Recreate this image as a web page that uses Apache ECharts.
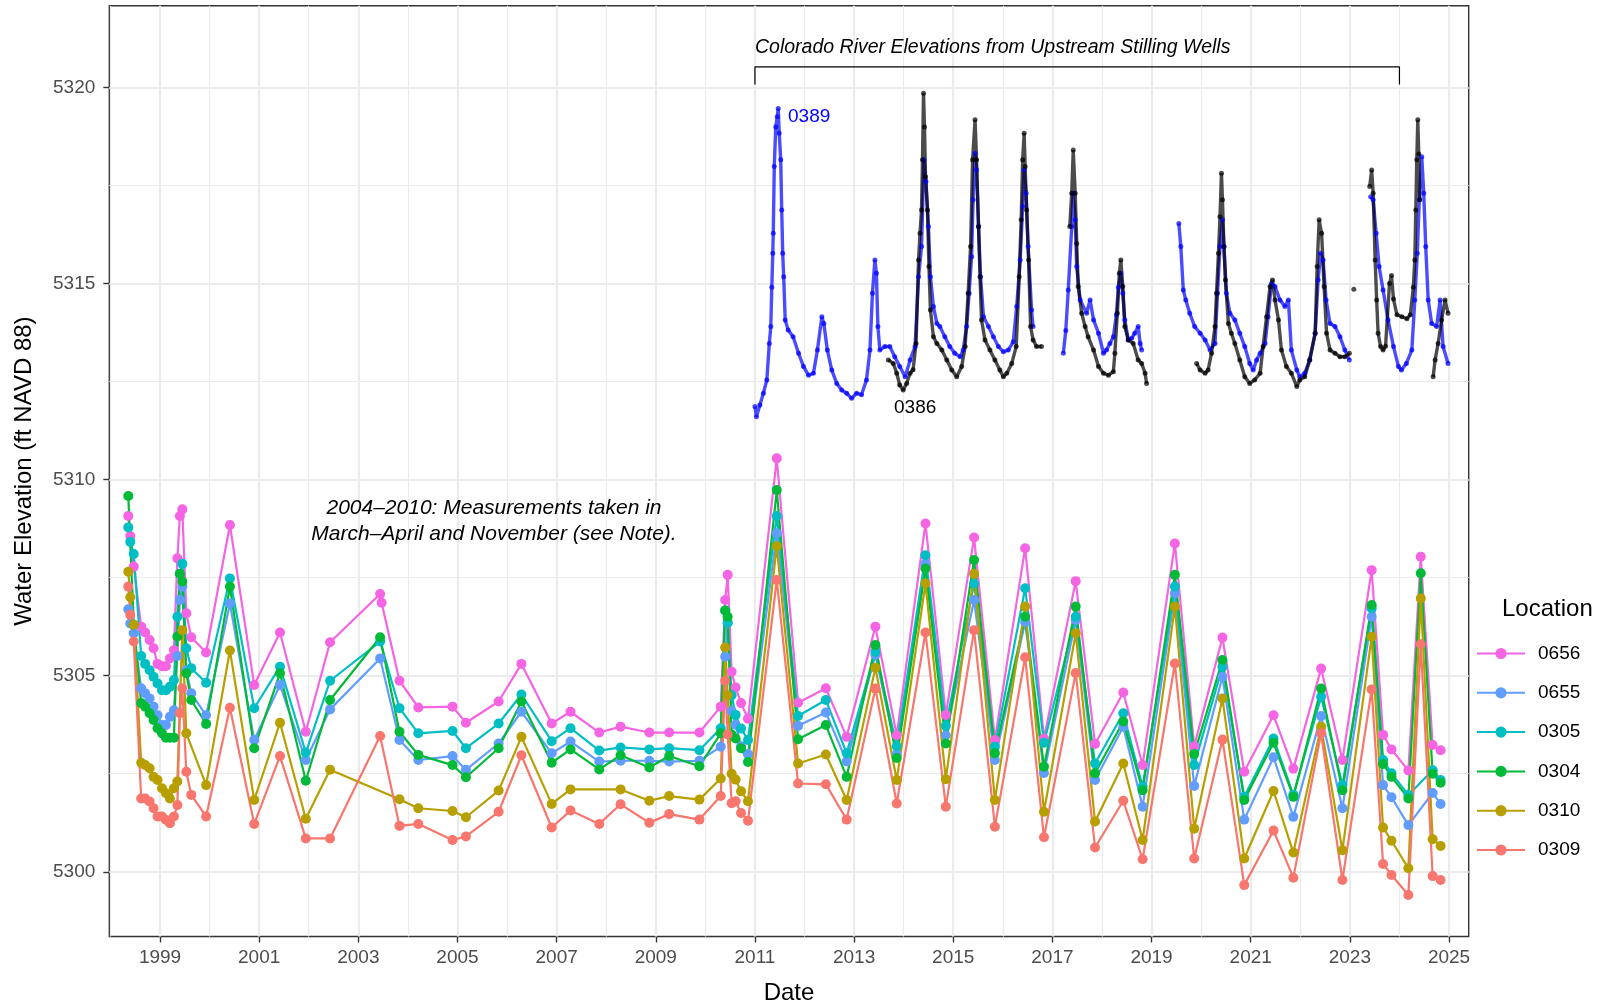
<!DOCTYPE html>
<html>
<head>
<meta charset="utf-8">
<script src="https://cdn.jsdelivr.net/npm/echarts@6/dist/echarts.min.js"></script>
<style>
  html, body { margin: 0; padding: 0; background: #fff; }
  #chart { width: 1604px; height: 1004px; }
</style>
</head>
<body>
<div id="chart"></div>
<script>
// sampling dates (decimal years)
const datesEarly = [1998.36, 1998.40, 1998.47, 1998.62, 1998.70, 1998.79, 1998.87, 1998.95, 1999.04, 1999.12, 1999.20, 1999.28, 1999.35, 1999.40, 1999.45, 1999.53, 1999.63, 1999.93];
const datesMid = [2000.41, 2000.90, 2001.42, 2001.94, 2002.43, 2003.44, 2003.47, 2003.83, 2004.21, 2004.90, 2005.17, 2005.83, 2006.29, 2006.90, 2007.28, 2007.86, 2008.29, 2008.87, 2009.27, 2009.88];
const datesCluster = [2010.31, 2010.40, 2010.45, 2010.53, 2010.61, 2010.72, 2010.86];
const datesLate = [2011.44, 2011.87, 2012.43, 2012.85, 2013.43, 2013.86, 2014.44, 2014.85, 2015.42, 2015.84, 2016.45, 2016.83, 2017.47, 2017.86, 2018.43, 2018.82, 2019.47, 2019.86, 2020.43, 2020.87, 2021.46, 2021.86, 2022.42, 2022.85, 2023.44, 2023.67, 2023.84, 2024.18, 2024.43, 2024.67, 2024.83];
const dates = [...datesEarly, ...datesMid, ...datesCluster, ...datesLate];

// water elevations per location (ft NAVD 88), null = not measured
const v0656 = [
  5309.07, 5308.56, 5307.78, 5306.25, 5306.10, 5305.91, 5305.70, 5305.30, 5305.24, 5305.24, 5305.44, 5305.65, 5307.99, 5309.07, 5309.24, 5306.59, 5305.98, 5305.59,
  5308.84, 5304.76, 5306.10, 5303.57, 5305.85, 5307.08, 5306.86, 5304.87, 5304.19, 5304.21, 5303.80, 5304.34, 5305.30, 5303.78, 5304.08, 5303.55, 5303.70, 5303.55, 5303.55, 5303.55,
  5304.21, 5306.93, 5307.57, 5305.10, 5304.70, 5304.30, 5303.90,
  5310.54, 5304.31, 5304.68, 5303.44, 5306.25, 5303.48, 5308.88, 5304.00, 5308.52, 5303.36, 5308.25, 5303.40, 5307.41, 5303.26, 5304.57, 5302.72, 5308.37, 5303.20, 5305.97, 5302.55, 5303.99, 5302.63, 5305.18, 5302.85, 5307.69, 5303.49, 5303.12, 5302.58, 5308.03, 5303.23, 5303.10
];
const v0655 = [
  5306.69, 5306.33, 5306.08, 5304.68, 5304.55, 5304.42, 5304.21, 5303.99, 5303.74, 5303.74, 5303.95, 5304.12, 5305.50, 5306.93, 5307.27, 5305.14, 5304.55, 5303.99,
  5306.84, 5303.36, 5304.76, 5302.85, 5304.14, 5305.44, null, 5303.36, 5302.85, 5302.95, 5302.60, 5303.27, 5304.08, 5303.02, 5303.32, 5302.81, 5302.83, 5302.83, 5302.81, 5302.83,
  5303.19, 5305.48, 5306.35, 5304.10, 5303.75, 5303.20, 5303.00,
  5308.63, 5303.72, 5304.06, 5302.81, 5305.53, 5303.00, 5307.86, 5303.48, 5306.93, 5302.85, 5306.37, 5302.52, 5306.42, 5302.34, 5303.70, 5301.66, 5307.10, 5302.19, 5304.97, 5301.33, 5302.92, 5301.40, 5303.97, 5301.62, 5306.50, 5302.21, 5301.90, 5301.19, null, 5302.01, 5301.73
];
const v0305 = [
  5308.78, 5308.41, 5308.10, 5305.50, 5305.30, 5305.14, 5304.97, 5304.80, 5304.63, 5304.63, 5304.72, 5304.89, 5306.50, 5307.60, 5307.85, 5305.70, 5305.19, 5304.82,
  5307.48, 5304.17, 5305.23, 5303.04, 5304.87, 5305.87, null, 5304.17, 5303.53, 5303.59, 5303.15, 5303.78, 5304.52, 5303.33, 5303.66, 5303.09, 5303.17, 5303.12, 5303.15, 5303.10,
  5303.66, 5306.66, 5306.35, 5304.50, 5304.00, 5303.65, 5303.36,
  5309.07, 5303.97, 5304.38, 5303.02, 5305.61, 5303.20, 5308.07, 5303.72, 5307.35, 5303.19, 5307.23, 5303.29, 5306.50, 5302.76, 5304.04, 5302.17, 5307.27, 5302.72, 5305.23, 5301.91, 5303.40, 5301.96, 5304.46, 5302.21, 5306.71, 5302.85, 5302.51, 5301.96, null, 5302.59, 5302.34
];
const v0304 = [
  5309.58, null, 5306.30, 5304.30, 5304.21, 5304.04, 5303.87, 5303.66, 5303.53, 5303.42, 5303.42, 5303.42, 5306.00, 5307.60, 5307.40, 5305.06, 5304.38, 5303.77,
  5307.27, 5303.15, 5305.06, 5302.32, 5304.38, 5305.98, null, 5303.57, 5302.98, 5302.72, 5302.41, 5303.15, 5304.34, 5302.78, 5303.12, 5302.61, 5302.97, 5302.66, 5302.95, 5302.69,
  5303.53, 5306.66, 5306.50, 5303.50, 5303.40, 5303.15, 5302.80,
  5309.73, 5303.38, 5303.74, 5302.42, 5305.78, 5302.90, 5307.73, 5303.27, 5307.95, 5303.02, 5306.50, 5302.68, 5306.76, 5302.51, 5303.83, 5302.08, 5307.57, 5303.00, 5305.40, 5301.83, 5303.29, 5301.91, 5304.67, 5302.08, 5306.80, 5302.75, 5302.42, 5301.87, 5307.61, 5302.50, 5302.27
];
const v0310 = [
  5307.65, 5307.00, 5306.30, 5302.78, 5302.72, 5302.64, 5302.42, 5302.34, 5302.13, 5302.00, 5301.87, 5302.13, 5302.30, null, 5306.16, 5303.53, null, 5302.21,
  5305.64, 5301.83, 5303.80, 5301.35, 5302.60, null, null, 5301.85, 5301.62, 5301.55, 5301.39, 5302.07, 5303.44, 5301.73, 5302.10, null, 5302.10, 5301.81, 5301.93, 5301.84,
  5302.38, 5305.72, 5304.50, 5302.50, 5302.35, 5302.05, 5301.80,
  5308.30, 5302.76, 5302.99, 5301.83, 5305.20, 5302.34, 5307.35, 5302.36, 5307.60, 5301.83, 5306.76, 5301.53, 5306.08, 5301.28, 5302.76, 5300.81, 5306.76, 5301.10, 5304.42, 5300.34, 5302.06, 5300.49, 5303.70, 5300.55, 5305.99, 5301.13, 5300.79, 5300.09, 5306.97, 5300.83, 5300.66
];
const v0309 = [
  5307.27, 5306.55, 5305.87, 5301.87, 5301.87, 5301.79, 5301.62, 5301.41, 5301.41, 5301.32, 5301.24, 5301.41, 5301.70, 5304.04, 5304.68, 5302.55, 5301.96, 5301.41,
  5304.18, 5301.22, 5302.95, 5300.85, 5300.85, 5303.46, null, 5301.17, 5301.22, 5300.81, 5300.90, 5301.53, 5302.97, 5301.13, 5301.56, 5301.22, 5301.72, 5301.25, 5301.47, 5301.33,
  5301.93, 5304.87, 5303.50, 5301.75, 5301.80, 5301.50, 5301.30,
  5307.44, 5302.25, 5302.23, 5301.33, 5304.67, 5301.74, 5306.10, 5301.66, 5306.16, 5301.15, 5305.47, 5300.88, 5305.07, 5300.62, 5301.81, 5300.32, 5305.31, 5300.34, 5303.37, 5299.66, 5301.05, 5299.85, 5303.53, 5299.79, 5304.65, 5300.20, 5299.92, 5299.41, 5305.80, 5299.89, 5299.79
];

// upstream stilling wells on the river: [year, elevation], null = gap in record
const r0389 = [
  [2011.00, 5311.86], [2011.03, 5311.60], [2011.10, 5311.90], [2011.17, 5312.20], [2011.24, 5312.54], [2011.29, 5313.47], [2011.32, 5313.90], [2011.34, 5314.90],
  [2011.36, 5315.77], [2011.37, 5316.28], [2011.39, 5317.98], [2011.42, 5318.99], [2011.45, 5319.25], [2011.47, 5319.46], [2011.49, 5318.83], [2011.52, 5318.15],
  [2011.54, 5316.87], [2011.56, 5315.77], [2011.58, 5315.17], [2011.61, 5314.07], [2011.67, 5313.81], [2011.77, 5313.64], [2011.88, 5313.22], [2011.98, 5312.88],
  [2012.08, 5312.66], [2012.18, 5312.71], [2012.26, 5313.30], [2012.35, 5314.15], [2012.39, 5313.98], [2012.46, 5313.30], [2012.55, 5312.79], [2012.65, 5312.45],
  [2012.75, 5312.28], [2012.85, 5312.20], [2012.95, 5312.07], [2013.05, 5312.20], [2013.15, 5312.16], [2013.25, 5312.54], [2013.32, 5313.30], [2013.37, 5314.75],
  [2013.42, 5315.60], [2013.45, 5315.26], [2013.48, 5313.90], [2013.52, 5313.30], [2013.62, 5313.39], [2013.72, 5313.39], [2013.82, 5313.13], [2013.92, 5312.88],
  [2014.03, 5312.62], [2014.13, 5313.05], [2014.23, 5313.39], [2014.30, 5315.17], [2014.36, 5315.94], [2014.41, 5318.15], [2014.45, 5317.60], [2014.50, 5316.45],
  [2014.54, 5315.17], [2014.60, 5314.41], [2014.67, 5313.98], [2014.73, 5313.90], [2014.83, 5313.64], [2014.93, 5313.39], [2015.03, 5313.22], [2015.14, 5313.13],
  [2015.20, 5313.30], [2015.27, 5313.90], [2015.32, 5314.75], [2015.37, 5315.68], [2015.40, 5317.13], [2015.44, 5318.32], [2015.47, 5317.90], [2015.51, 5316.45],
  [2015.55, 5315.17], [2015.61, 5314.15], [2015.71, 5313.90], [2015.81, 5313.64], [2015.91, 5313.39], [2016.01, 5313.26], [2016.11, 5313.30], [2016.21, 5313.51],
  [2016.28, 5314.41], [2016.35, 5315.60], [2016.40, 5316.96], [2016.43, 5317.90], [2016.47, 5317.30], [2016.51, 5315.94], [2016.58, 5314.32], [2016.61, 5313.90],
  [2016.90, null],
  [2017.22, 5313.22], [2017.27, 5313.80], [2017.32, 5314.83], [2017.39, 5316.45], [2017.42, 5317.30], [2017.46, 5316.62], [2017.49, 5315.43], [2017.56, 5314.58],
  [2017.69, 5314.24], [2017.76, 5314.58], [2017.83, 5314.07], [2017.93, 5313.73], [2018.03, 5313.22], [2018.09, 5313.30], [2018.16, 5313.47], [2018.23, 5313.64],
  [2018.29, 5314.20], [2018.33, 5314.90], [2018.38, 5315.26], [2018.42, 5314.75], [2018.46, 5314.07], [2018.53, 5313.56], [2018.60, 5313.60], [2018.66, 5313.73],
  [2018.73, 5313.90], [2018.77, 5313.47], [2018.80, 5313.30],
  [2019.20, null],
  [2019.55, 5316.53], [2019.59, 5315.94], [2019.64, 5314.83], [2019.69, 5314.58], [2019.77, 5314.24], [2019.87, 5313.90], [2019.98, 5313.73], [2020.08, 5313.56],
  [2020.18, 5313.30], [2020.28, 5313.47], [2020.33, 5314.75], [2020.38, 5315.94], [2020.43, 5316.62], [2020.46, 5315.94], [2020.51, 5314.75], [2020.58, 5314.24],
  [2020.68, 5314.07], [2020.78, 5313.73], [2020.88, 5313.39], [2020.98, 5312.96], [2021.05, 5312.79], [2021.12, 5313.05], [2021.19, 5313.22], [2021.29, 5313.47],
  [2021.35, 5314.15], [2021.42, 5315.00], [2021.49, 5314.92], [2021.59, 5314.58], [2021.69, 5314.41], [2021.76, 5314.58], [2021.82, 5313.30], [2021.93, 5312.79],
  [2021.99, 5312.62], [2022.09, 5312.71], [2022.19, 5313.05], [2022.30, 5313.73], [2022.36, 5315.09], [2022.41, 5315.77], [2022.46, 5315.60], [2022.52, 5314.58],
  [2022.60, 5313.98], [2022.70, 5313.90], [2022.80, 5313.64], [2022.90, 5313.30], [2022.99, 5313.05],
  [2023.20, null],
  [2023.42, 5317.21], [2023.47, 5317.13], [2023.53, 5316.28], [2023.59, 5315.43], [2023.67, 5314.83], [2023.77, 5314.07], [2023.88, 5313.39], [2023.98, 5312.88],
  [2024.04, 5312.79], [2024.14, 5312.96], [2024.25, 5313.30], [2024.31, 5314.58], [2024.36, 5315.77], [2024.40, 5317.13], [2024.45, 5318.23], [2024.49, 5317.30],
  [2024.53, 5315.94], [2024.58, 5314.58], [2024.65, 5313.98], [2024.75, 5313.90], [2024.82, 5314.58], [2024.88, 5313.39], [2024.98, 5312.96]
];
const r0386 = [
  [2013.69, 5313.05], [2013.79, 5312.96], [2013.86, 5312.71], [2013.92, 5312.41], [2013.99, 5312.28], [2014.06, 5312.45], [2014.13, 5312.71], [2014.19, 5312.80],
  [2014.25, 5313.47], [2014.30, 5315.60], [2014.33, 5316.28], [2014.36, 5316.87], [2014.38, 5318.15], [2014.40, 5319.85], [2014.42, 5318.99], [2014.44, 5317.72],
  [2014.48, 5316.87], [2014.51, 5315.43], [2014.54, 5314.32], [2014.60, 5313.64], [2014.67, 5313.47], [2014.77, 5313.30], [2014.87, 5313.05], [2014.97, 5312.79],
  [2015.07, 5312.62], [2015.17, 5312.88], [2015.24, 5313.39], [2015.30, 5314.75], [2015.35, 5315.94], [2015.39, 5318.15], [2015.44, 5319.17], [2015.47, 5318.15],
  [2015.51, 5316.45], [2015.54, 5315.17], [2015.57, 5314.07], [2015.64, 5313.56], [2015.74, 5313.30], [2015.84, 5313.05], [2015.94, 5312.79], [2016.01, 5312.62],
  [2016.08, 5312.71], [2016.18, 5312.96], [2016.27, 5313.39], [2016.33, 5315.17], [2016.37, 5316.62], [2016.40, 5318.15], [2016.43, 5318.83], [2016.45, 5317.98],
  [2016.48, 5316.87], [2016.52, 5315.60], [2016.56, 5313.90], [2016.61, 5313.56], [2016.68, 5313.39], [2016.78, 5313.39],
  [2017.00, null],
  [2017.35, 5316.45], [2017.39, 5317.30], [2017.42, 5318.40], [2017.46, 5317.30], [2017.49, 5316.02], [2017.52, 5314.92], [2017.59, 5314.24], [2017.66, 5313.90],
  [2017.72, 5313.64], [2017.83, 5313.30], [2017.93, 5312.88], [2018.03, 5312.71], [2018.13, 5312.66], [2018.23, 5312.75], [2018.26, 5313.22], [2018.31, 5314.24],
  [2018.35, 5315.26], [2018.38, 5315.60], [2018.42, 5314.92], [2018.46, 5313.90], [2018.53, 5313.56], [2018.63, 5313.47], [2018.73, 5313.05], [2018.80, 5312.96],
  [2018.87, 5312.71], [2018.90, 5312.45],
  [2019.40, null],
  [2019.91, 5312.96], [2019.98, 5312.79], [2020.08, 5312.71], [2020.14, 5312.79], [2020.21, 5313.22], [2020.28, 5313.90], [2020.31, 5314.75], [2020.35, 5315.77],
  [2020.38, 5316.70], [2020.41, 5317.81], [2020.43, 5317.13], [2020.46, 5315.94], [2020.49, 5315.09], [2020.55, 5313.98], [2020.61, 5313.73], [2020.68, 5313.47],
  [2020.78, 5313.05], [2020.88, 5312.62], [2020.98, 5312.45], [2021.08, 5312.54], [2021.19, 5312.71], [2021.25, 5313.39], [2021.32, 5314.15], [2021.39, 5314.92],
  [2021.44, 5315.09], [2021.49, 5314.58], [2021.56, 5314.07], [2021.62, 5313.30], [2021.72, 5312.88], [2021.82, 5312.71], [2021.93, 5312.37], [2021.99, 5312.54],
  [2022.09, 5312.62], [2022.19, 5313.05], [2022.30, 5313.73], [2022.34, 5315.43], [2022.38, 5316.62], [2022.43, 5316.28], [2022.48, 5314.92], [2022.53, 5313.73],
  [2022.60, 5313.30], [2022.70, 5313.22], [2022.80, 5313.13], [2022.90, 5313.13], [2022.99, 5313.22],
  [2023.04, null], [2023.08, 5314.85], [2023.20, null],
  [2023.40, 5317.47], [2023.44, 5317.89], [2023.47, 5317.30], [2023.51, 5315.60], [2023.54, 5314.58], [2023.57, 5313.73], [2023.62, 5313.39], [2023.67, 5313.30],
  [2023.72, 5313.40], [2023.80, 5315.00], [2023.84, 5315.20], [2023.88, 5314.60], [2023.95, 5314.20], [2024.05, 5314.15], [2024.15, 5314.10], [2024.22, 5314.20],
  [2024.28, 5314.90], [2024.31, 5315.60], [2024.33, 5316.87], [2024.35, 5318.15], [2024.37, 5319.17], [2024.39, 5318.30], [2024.41, 5317.13],
  [2024.50, null],
  [2024.68, 5312.62], [2024.72, 5313.05], [2024.78, 5313.47], [2024.85, 5314.07], [2024.92, 5314.58], [2024.98, 5314.24]
];

// axis ticks / grid lines
const majorX = [1999, 2001, 2003, 2005, 2007, 2009, 2011, 2013, 2015, 2017, 2019, 2021, 2023, 2025];
const minorX = [1998, 2000, 2002, 2004, 2006, 2008, 2010, 2012, 2014, 2016, 2018, 2020, 2022, 2024];
const majorY = [5300, 5305, 5310, 5315, 5320];
const minorY = [5302.5, 5307.5, 5312.5, 5317.5];

// bracket over the river records
const bracketX = [2011, 2011, 2024, 2024];
const bracketY = [5320.07, 5320.52, 5320.52, 5320.07];

const locations = [
  { name: '0656', color: '#F564E3', vals: v0656 },
  { name: '0655', color: '#619CFF', vals: v0655 },
  { name: '0305', color: '#00BFC4', vals: v0305 },
  { name: '0304', color: '#00BA38', vals: v0304 },
  { name: '0310', color: '#B79F00', vals: v0310 },
  { name: '0309', color: '#F8766D', vals: v0309 }
];

const FONT = '"Liberation Sans", Arial, sans-serif';
const chart = echarts.init(document.getElementById('chart'));

const gridLines = [
  ...minorX.map(v => ({ xAxis: v, lineStyle: { width: 1.2 } })),
  ...majorX.map(v => ({ xAxis: v, lineStyle: { width: 2.2 } })),
  ...minorY.map(v => ({ yAxis: v, lineStyle: { width: 1.2 } })),
  ...majorY.map(v => ({ yAxis: v, lineStyle: { width: 2.2 } }))
];

const series = [{
  name: 'grid',
  type: 'line',
  data: [],
  silent: true,
  z: 0,
  markLine: {
    z: 1,
    silent: true,
    symbol: ['none', 'none'],
    label: { show: false },
    emphasis: { disabled: true },
    lineStyle: { color: '#EBEBEB', type: 'solid' },
    data: gridLines
  }
}];

locations.forEach(loc => {
  series.push({
    name: loc.name,
    type: 'line',
    z: 3,
    data: dates.map((d, i) => [d, loc.vals[i]]),
    connectNulls: true,
    symbol: 'circle',
    symbolSize: 10,
    color: loc.color,
    lineStyle: { width: 2.2, color: loc.color },
    itemStyle: { color: loc.color },
    emphasis: { disabled: true }
  });
});

// river records: thick dotted bands
[['r0389', r0389, 'rgba(0,0,255,0.7)'], ['r0386', r0386, 'rgba(0,0,0,0.7)']].forEach(([name, data, col]) => {
  series.push({
    name: name,
    type: 'line',
    z: 3,
    data: data,
    connectNulls: false,
    symbol: 'circle',
    symbolSize: 5,
    lineStyle: { width: 3.4, color: col },
    itemStyle: { color: col },
    emphasis: { disabled: true }
  });
});

series.push({
  name: 'bracket',
  type: 'line',
  z: 3,
  data: bracketX.map((x, i) => [x, bracketY[i]]),
  symbol: 'none',
  silent: true,
  lineStyle: { width: 1.2, color: '#000' },
  emphasis: { disabled: true }
});

chart.setOption({
  animation: false,
  backgroundColor: '#fff',
  grid: {
    left: 109.3, right: 135.3, top: 5.7, bottom: 67.5,
    show: true, backgroundColor: '#fff', borderColor: '#333333', borderWidth: 1.4,
    outerBoundsMode: 'none'
  },
  xAxis: {
    type: 'value',
    min: 1997.977,
    max: 2025.397,
    name: 'Date',
    nameLocation: 'middle',
    nameGap: 45,
    nameTextStyle: { fontSize: 24, color: '#000', fontFamily: FONT },
    axisLine: { show: false },
    splitLine: { show: false },
    axisTick: { show: true, length: 6, customValues: majorX, lineStyle: { color: '#333333', width: 1.4 } },
    axisLabel: { customValues: majorX, formatter: v => String(v), fontSize: 19, color: '#4D4D4D', fontFamily: FONT, margin: 12 }
  },
  yAxis: {
    type: 'value',
    min: 5298.35,
    max: 5322.08,
    name: 'Water Elevation (ft NAVD 88)',
    nameLocation: 'middle',
    nameGap: 73,
    nameTextStyle: { fontSize: 24, color: '#000', fontFamily: FONT },
    axisLine: { show: false },
    splitLine: { show: false },
    axisTick: { show: true, length: 6, customValues: majorY, lineStyle: { color: '#333333', width: 1.4 } },
    axisLabel: { customValues: majorY, formatter: v => String(v), fontSize: 19, color: '#4D4D4D', fontFamily: FONT, margin: 14 }
  },
  legend: {
    orient: 'vertical',
    left: 1471,
    top: 639,
    itemWidth: 48,
    itemHeight: 14,
    itemGap: 20.3,
    data: locations.map(l => l.name),
    textStyle: { fontSize: 19, color: '#000', fontFamily: FONT, padding: [0, 0, 0, 8] },
    selectedMode: false
  },
  graphic: [
    { type: 'text', z: 100, x: 1502, y: 609, style: { text: 'Location', font: '24px ' + FONT, fill: '#000', align: 'left', verticalAlign: 'middle' } },
    { type: 'text', z: 100, x: 755, y: 48, style: { text: 'Colorado River Elevations from Upstream Stilling Wells', font: 'italic 19.5px ' + FONT, fill: '#000', align: 'left', verticalAlign: 'middle' } },
    { type: 'text', z: 100, x: 788, y: 117, style: { text: '0389', font: '19px ' + FONT, fill: '#0000FF', align: 'left', verticalAlign: 'middle' } },
    { type: 'text', z: 100, x: 894, y: 408, style: { text: '0386', font: '19px ' + FONT, fill: '#000', align: 'left', verticalAlign: 'middle' } },
    { type: 'text', z: 100, x: 494, y: 508, style: { text: '2004\u20132010: Measurements taken in', font: 'italic 21px ' + FONT, fill: '#000', align: 'center', verticalAlign: 'middle' } },
    { type: 'text', z: 100, x: 494, y: 534, style: { text: 'March\u2013April and November (see Note).', font: 'italic 21px ' + FONT, fill: '#000', align: 'center', verticalAlign: 'middle' } }
  ],
  series: series
});
</script>
</body>
</html>
